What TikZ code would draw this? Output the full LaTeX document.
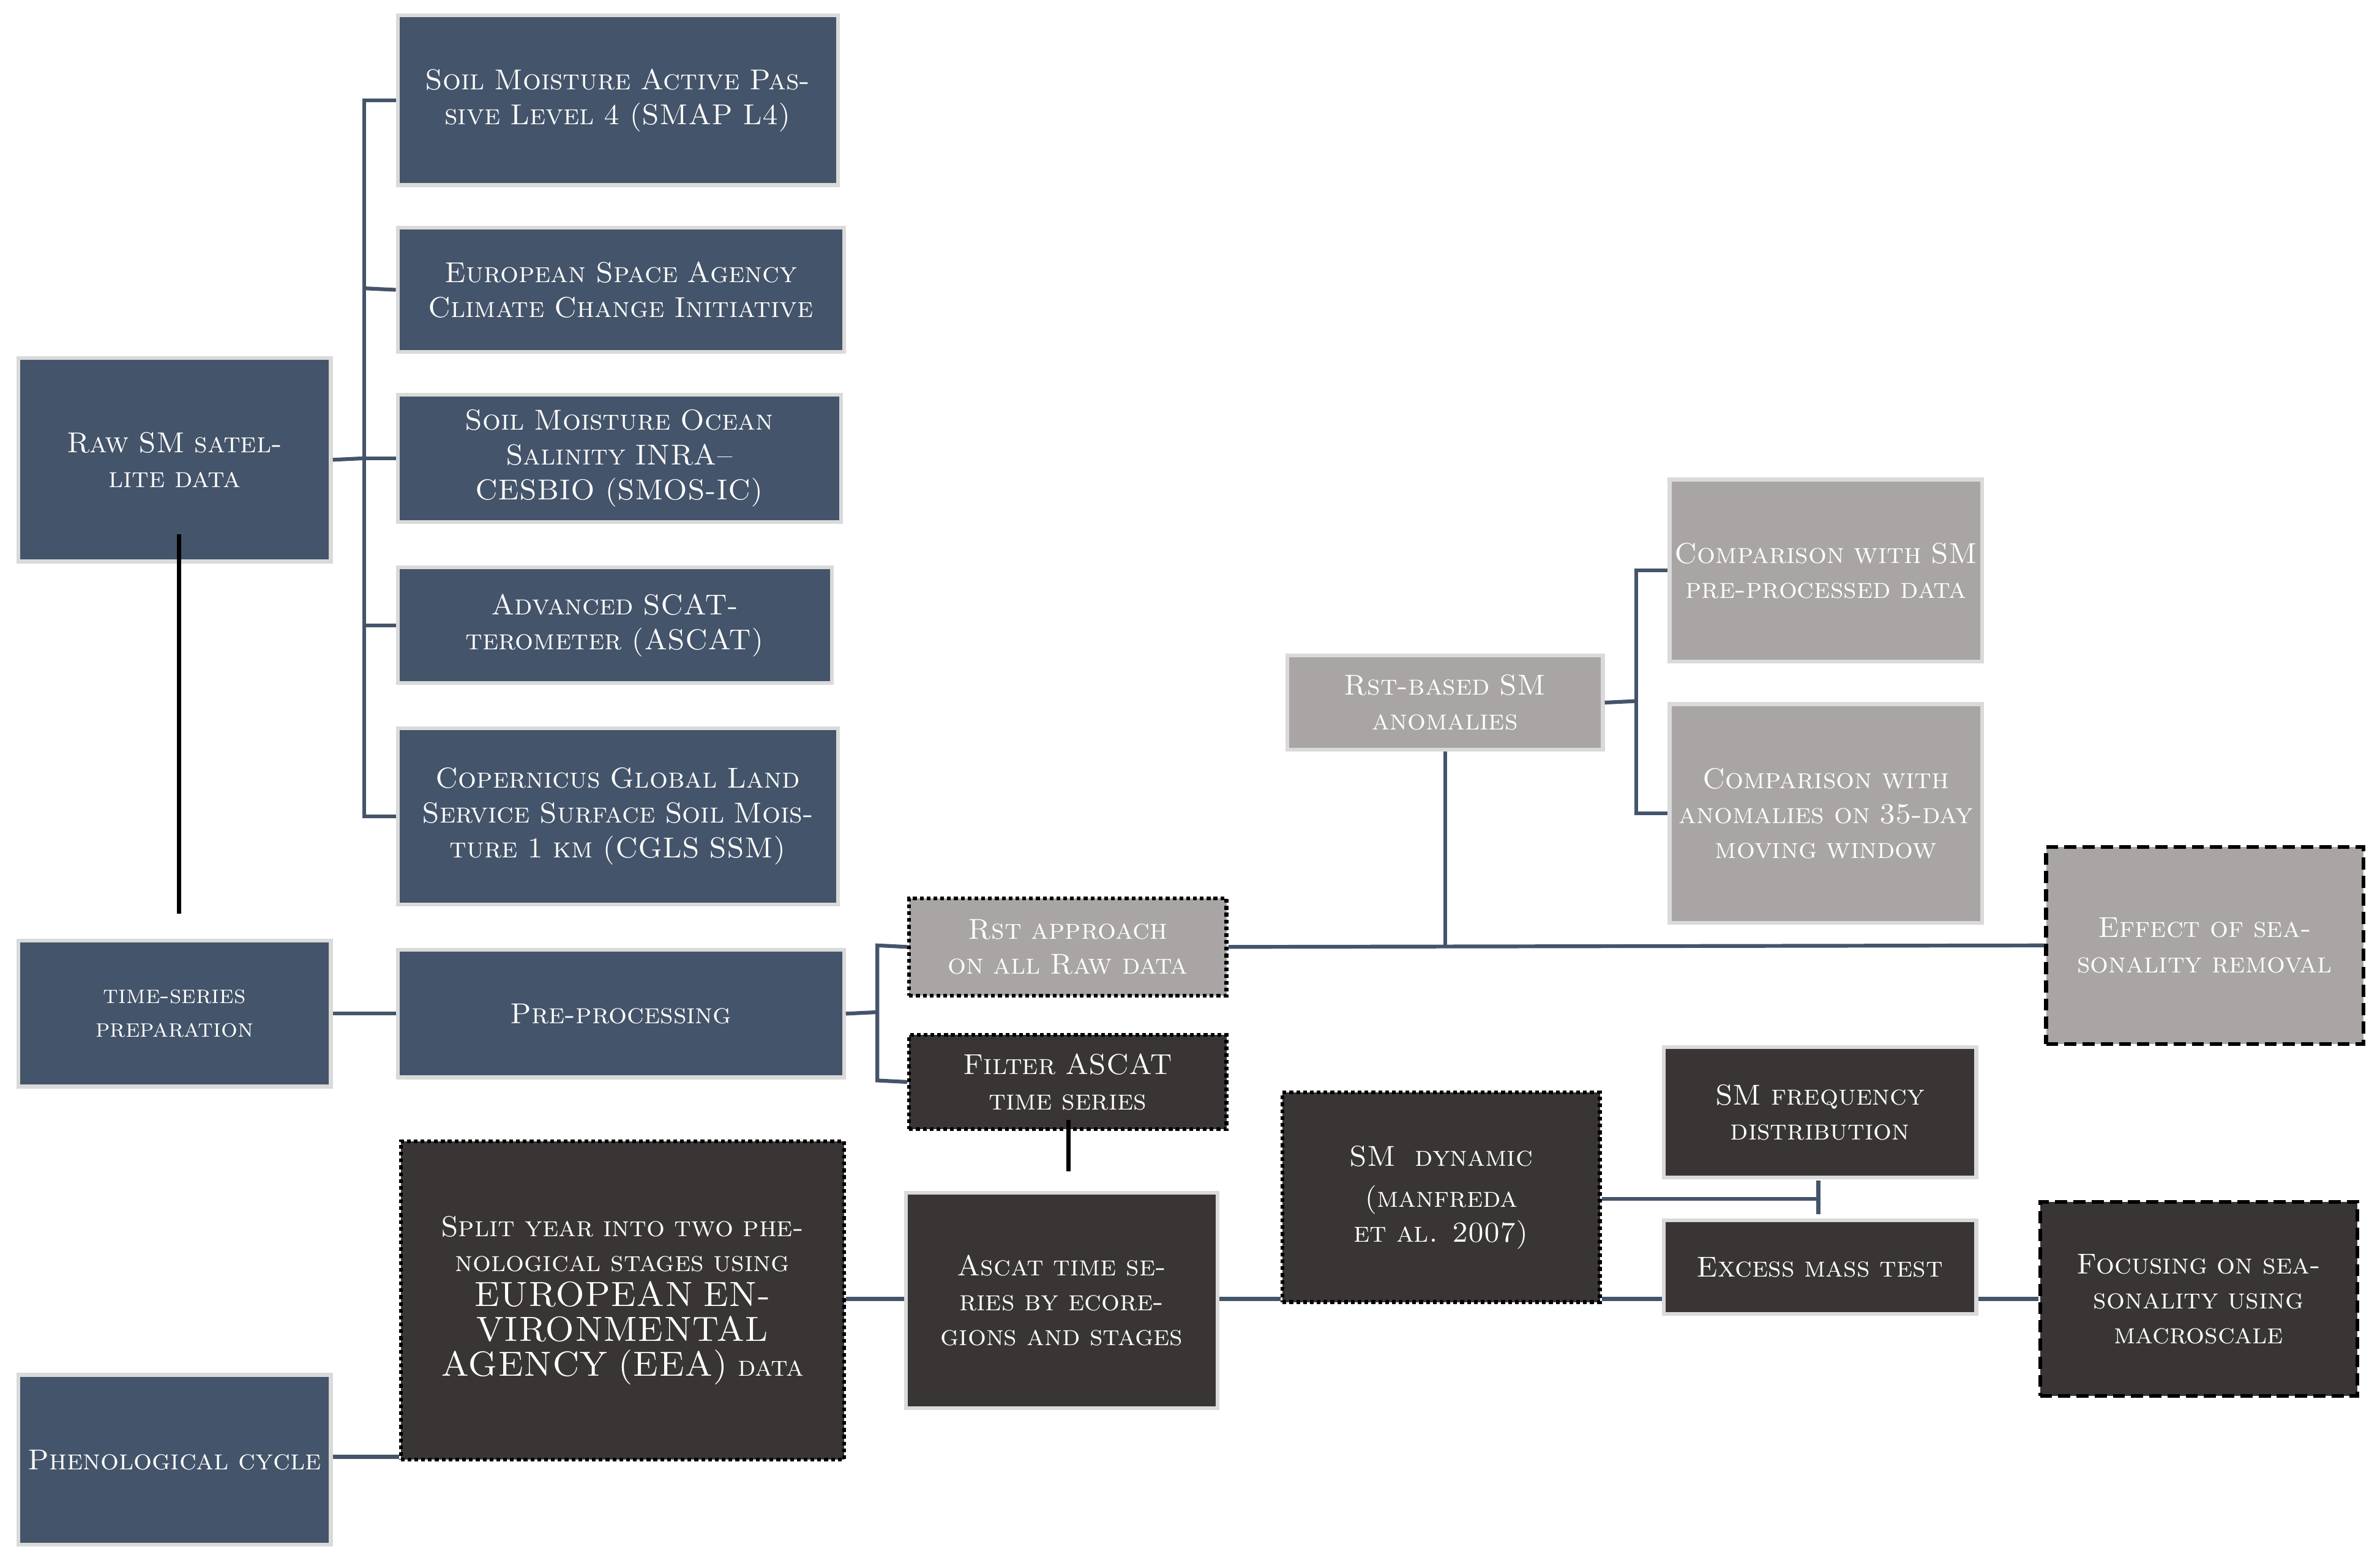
\documentclass[tikz,border=0pt]{standalone}
\definecolor{bl}{HTML}{44546A}
\definecolor{dk}{HTML}{3A3535}
\definecolor{gr}{HTML}{A8A5A4}
\definecolor{edge}{HTML}{DADADA}
\newcommand\mybox[7]{\node[#1,minimum width={(#5-#3)*1pt},minimum height={(#6-#4)*1pt},text width={(#5-#3-6)*1pt}] (#2) at ({(#3+#5)/2},{(#4+#6)/2}) {#7};}
\begin{document}
\begin{tikzpicture}[x=1pt,y=-1pt,
  box/.style={draw=edge,line width=2.5pt,inner sep=0pt,align=center,text=white,font=\fontsize{19}{23}\selectfont\scshape},
  blue/.style={box,fill=bl},
  dark/.style={box,fill=dk},
  grey/.style={box,fill=gr},
  dot/.style={draw=black,dotted,line width=2.5pt},
  dsh/.style={draw=black,dash pattern=on 8pt off 4pt,line width=2.5pt},
  ln/.style={draw=bl,line width=2.5pt},
  bk/.style={draw=black,line width=3pt}]
\useasboundingbox[fill=white] (0,0) rectangle (1568,1030);
\mybox{blue}{raw}{12}{236}{218}{370}{Raw SM satellite data}
\mybox{blue}{smap}{262}{10}{552}{122}{Soil Moisture Active Passive Level 4 (SMAP L4)}
\mybox{blue}{esa}{262}{150}{556}{232}{European Space Agency Climate Change Initiative}
\mybox{blue}{smos}{262}{260}{554}{344}{Soil Moisture Ocean Salinity INRA--CESBIO (SMOS-IC)}
\mybox{blue}{ascat}{262}{374}{548}{450}{Advanced SCATterometer (ASCAT)}
\mybox{blue}{cgls}{262}{480}{552}{596}{Copernicus Global Land Service Surface Soil Moisture 1 km (CGLS SSM)}
\mybox{blue,font=\fontsize{17}{22}\selectfont\scshape}{tsp}{12}{620}{218}{716}{time-series preparation}
\mybox{blue}{pre}{262}{626}{556}{710}{Pre-processing}
\mybox{blue}{phen}{12}{906}{218}{1018}{Phenological cycle}
\mybox{dark,dot}{split}{264}{752}{556}{962}{Split year into two phenological stages using {\fontsize{23}{24}\selectfont EUROPEAN ENVIRONMENTAL AGENCY (EEA)} data}
\mybox{grey,dot}{rst}{599}{592}{808}{656}{Rst approach on all Raw data}
\mybox{dark,dot}{filt}{599}{682}{808}{744}{Filter ASCAT time series}
\mybox{dark}{ats}{597}{786}{802}{928}{Ascat time series by ecoregions and stages}
\mybox{dark,dot}{dyn}{845}{720}{1054}{858}{SM~ dynamic\\[4pt] (manfreda et al. 2007)}
\mybox{dark}{freq}{1096}{690}{1302}{776}{SM frequency distribution}
\mybox{dark}{exc}{1096}{804}{1302}{866}{Excess mass test}
\mybox{dark,dsh}{foc}{1344}{792}{1553}{920}{Focusing on seasonality using macroscale}
\mybox{grey,dsh}{eff}{1348}{558}{1557}{688}{Effect of seasonality removal}
\mybox{grey}{rsb}{848}{432}{1056}{494}{Rst-based SM anomalies}
\mybox{grey}{c1}{1100}{316}{1306}{436}{Comparison with SM pre-processed data}
\mybox{grey}{c2}{1100}{464}{1306}{608}{Comparison with anomalies on 35-day moving window}
% bracket of sources
\coordinate (bx) at (240,302);
\draw[ln] (raw.east) -- (bx);
\draw[ln] (smap.west) -- (240,66) -- (240,538) -- (cgls.west);
\draw[ln] (esa.west) -- (240,190);
\draw[ln] (smos.west) -- (240,302);
\draw[ln] (ascat.west) -- (240,412);
\draw[bk] (118,352) -- (118,602);
\draw[ln] (tsp.east) -- (pre.west);
\draw[ln] (pre.east) -- (578,667) coordinate (pb);
\draw[ln] (rst.west) -- (578,623) -- (578,712) -- (filt.west);
\draw[ln] (rst.east) -- (eff.west);
\draw[ln] (rsb.south) -- (952,623);
\draw[ln] (rsb.east) -- (1078,462);
\draw[ln] (c1.west) -- (1078,376) -- (1078,536) -- (c2.west);
\draw[bk] (704,738) -- (704,772);
\draw[ln] (phen.east|-0,960) -- (split.west|-0,960);
\draw[ln] (split.east|-0,856) -- (ats.west|-0,856);
\draw[ln] (ats.east|-0,856) -- (dyn.west|-0,856);
\draw[ln] (dyn.east|-0,856) -- (exc.west|-0,856);
\draw[ln] (exc.east|-0,856) -- (foc.west|-0,856);
\draw[ln] (dyn.east|-0,790) -- (1198,790);
\draw[ln] (1198,778) -- (1198,800);
\end{tikzpicture}
\end{document}
